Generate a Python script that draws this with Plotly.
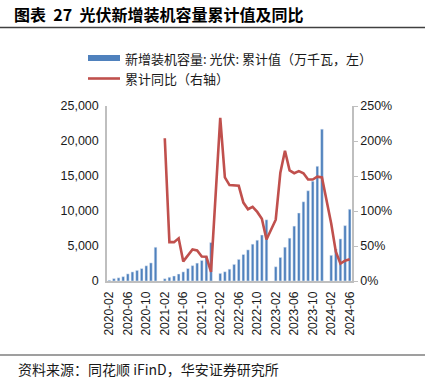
import plotly.graph_objects as go

# ---------------- data ----------------
years = [2020, 2021, 2022, 2023, 2024]
# cumulative new PV capacity (万千瓦), Feb..Dec (January not reported)
cum_2020 = [110, 343, 457, 621, 1016, 1296, 1514, 1780, 2171, 2585, 4820]
cum_2021 = [326, 533, 711, 1000, 1301, 1776, 2196, 2556, 2931, 3479, 5488]
cum_2022 = [1086, 1321, 1688, 2371, 3088, 3785, 4447, 5260, 5824, 6571, 8741]
cum_2023 = [2037, 3366, 4831, 6121, 7842, 9713, 11316, 12894, 14256, 16388, 21688]
cum_2024 = [3672, 4574, 6011, 7915, 10248]
# cumulative YoY (%), Feb..Dec
yoy_2020 = [None] * 11
yoy_2021 = [204, 55.5, 55.5, 61, 28, 37, 45, 43.6, 35, 34.6, 13]
yoy_2022 = [233, 148, 137, 137, 136, 112, 102.5, 105.8, 98.7, 88.9, 59.3]
yoy_2023 = [87.6, 154.8, 186, 158, 154, 157, 154, 145, 145, 149, 148]
yoy_2024 = [82, 42, 25, 29, 31]

tick_labels = ["2020-02", "2020-06", "2020-10", "2021-02", "2021-06", "2021-10",
               "2022-02", "2022-06", "2022-10", "2023-02", "2023-06", "2023-10",
               "2024-02", "2024-06"]

title_text = "图表\u00a0 27 \u00a0光伏新增装机容量累计值及同比"
bar_name = "新增装机容量: 光伏: 累计值（万千瓦，左）"
line_name = "累计同比（右轴）"
source_text = "资料来源：同花顺 iFinD，华安证券研究所"

# ---------------- assemble monthly series (Jan gaps) ----------------
cum_by_year = [cum_2020, cum_2021, cum_2022, cum_2023, cum_2024]
yoy_by_year = [yoy_2020, yoy_2021, yoy_2022, yoy_2023, yoy_2024]
cats, cum, yoy = [], [], []
for y, cv, yv in zip(years, cum_by_year, yoy_by_year):
    if y != years[0]:
        cats.append(f"{y}-01"); cum.append(None); yoy.append(None)
    for i, (c, p) in enumerate(zip(cv, yv)):
        cats.append(f"{y}-{i + 2:02d}"); cum.append(c); yoy.append(p)

W, H = 425, 384
L, R, T, B = 107, 73, 106, 103
pw, ph = W - L - R, H - T - B

def px(x):
    return (x - L) / pw

def py(y):
    return (H - B - y) / ph

BLUE = "#4F81BD"
RED = "#C0504D"
AX = "#BFBFBF"
TXT = "#1a1a1a"
CJK = "Noto Sans CJK SC"
LAT = "Liberation Sans"

fig = go.Figure()
fig.add_trace(go.Bar(x=cats, y=cum, marker_color=BLUE, name=bar_name,
                     showlegend=False))
fig.add_trace(go.Scatter(x=cats, y=yoy, yaxis="y2", mode="lines",
                         line=dict(color=RED, width=2.6), connectgaps=True,
                         name=line_name, showlegend=False))

fig.update_layout(
    width=W, height=H,
    margin=dict(l=L, r=R, t=T, b=B, autoexpand=False),
    plot_bgcolor="white", paper_bgcolor="white",
    bargap=0.42,
    font=dict(family=LAT, size=12.5, color=TXT),
    xaxis=dict(type="category", categoryorder="array", categoryarray=cats,
               range=[-0.5, len(cats) - 0.5],
               tickmode="array", tickvals=tick_labels, ticktext=tick_labels,
               tickangle=-90, tickfont=dict(family=LAT, size=12, color=TXT),
               showline=True, linecolor=AX, linewidth=1.5,
               ticks="outside", ticklen=4, tickcolor="white",
               showgrid=False, zeroline=False),
    yaxis=dict(range=[0, 25000], dtick=5000, tickformat=",",
               showline=True, linecolor=AX, linewidth=1.5,
               ticks="outside", ticklen=4, tickcolor="white",
               showgrid=False, zeroline=False,
               tickfont=dict(family=LAT, size=12.5, color=TXT)),
    yaxis2=dict(range=[0, 250], dtick=50, ticksuffix="%", overlaying="y",
                side="right", showline=True, linecolor=AX, linewidth=1.5,
                ticks="outside", ticklen=4, tickcolor=AX,
                showgrid=False, zeroline=False,
                tickfont=dict(family=LAT, size=12.5, color=TXT)),
)

shapes = [
    # title underline
    dict(type="line", xref="paper", yref="paper", x0=px(0), x1=px(W),
         y0=py(27.5), y1=py(27.5), line=dict(color="#404040", width=1.5)),
    # source top line
    dict(type="line", xref="paper", yref="paper", x0=px(0), x1=px(W),
         y0=py(355), y1=py(355), line=dict(color="#404040", width=1.2)),
    # legend symbols
    dict(type="rect", xref="paper", yref="paper", x0=px(88), x1=px(120),
         y0=py(61), y1=py(55), fillcolor=BLUE, line=dict(width=0)),
    dict(type="line", xref="paper", yref="paper", x0=px(88), x1=px(120),
         y0=py(78.5), y1=py(78.5), line=dict(color=RED, width=2.6)),
]
annotations = [
    dict(text=f"<b>{title_text}</b>", xref="paper", yref="paper",
         x=px(12), y=py(14.5), xanchor="left", yanchor="middle",
         showarrow=False, font=dict(family=CJK, size=16, color="#000")),
    dict(text=bar_name, xref="paper", yref="paper", x=px(123), y=py(58),
         xanchor="left", yanchor="middle", showarrow=False,
         font=dict(family=CJK, size=13, color=TXT)),
    dict(text=line_name, xref="paper", yref="paper", x=px(123), y=py(78.5),
         xanchor="left", yanchor="middle", showarrow=False,
         font=dict(family=CJK, size=13, color=TXT)),
    dict(text=source_text, xref="paper", yref="paper", x=px(16), y=py(369),
         xanchor="left", yanchor="middle", showarrow=False,
         font=dict(family=CJK, size=14, color=TXT)),
]
fig.update_layout(shapes=shapes, annotations=annotations)

fig.write_html("out.html",
               config={"displayModeBar": False},
               post_script="document.body.style.margin='0';"
                           "document.body.style.overflow='hidden';")
